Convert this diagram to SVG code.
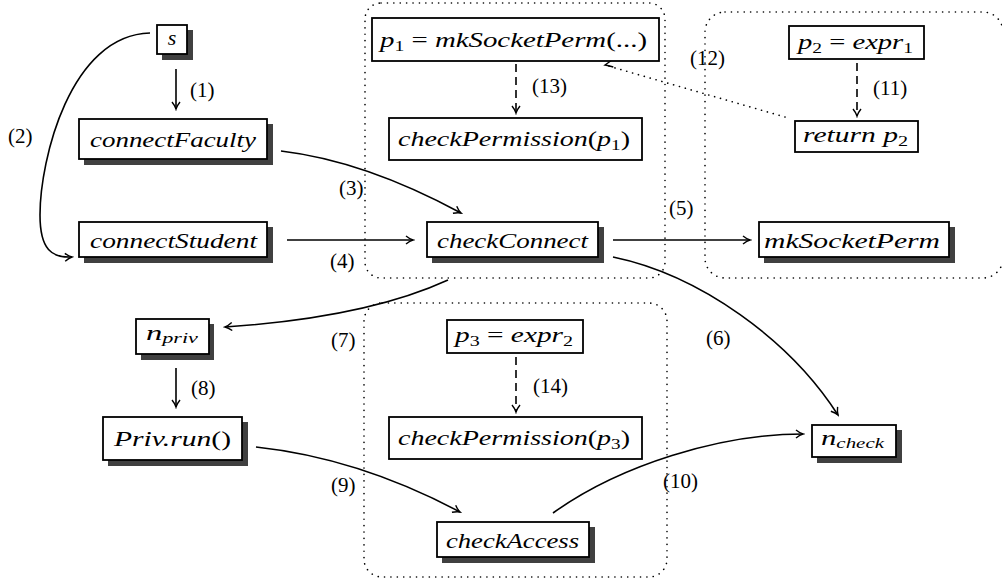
<svg xmlns="http://www.w3.org/2000/svg" width="1002" height="584" viewBox="0 0 1002 584">
<defs>
<marker id="ah" viewBox="-8 -5 10 10" refX="0" refY="0" markerWidth="10" markerHeight="10" markerUnits="userSpaceOnUse" orient="auto">
<path d="M-7,-4 Q-3,-0.8 0,0 Q-3,0.8 -7,4" fill="none" stroke="#000" stroke-width="1.4"/>
</marker>
</defs>
<rect width="1002" height="584" fill="#fff"/>

<g id="regions" fill="none" stroke="#000" stroke-width="1.6" stroke-linecap="round" stroke-dasharray="0.1 6.3">
<rect x="365" y="3" width="300" height="275" rx="16"/>
<rect x="705" y="12" width="298" height="266" rx="20"/>
<rect x="364" y="303" width="303" height="274" rx="18"/>
</g>

<g id="connectors" fill="none" stroke="#000" stroke-width="1.6">
<path d="M176,69 L176,109" marker-end="url(#ah)"/>
<path d="M150,33 C70,35 40,160 40,215 C40,250 52,258 72,257" marker-end="url(#ah)"/>
<path d="M281,151 C340,158 400,180 461,213" marker-end="url(#ah)"/>
<path d="M287,240 L413,240" marker-end="url(#ah)"/>
<path d="M613,240 L750,240" marker-end="url(#ah)"/>
<path d="M613,257 C700,275 790,340 838,415" marker-end="url(#ah)"/>
<path d="M448,280 C400,302 330,320 225,327" marker-end="url(#ah)"/>
<path d="M176,368 L176,407" marker-end="url(#ah)"/>
<path d="M256,447 C330,455 400,480 460,512" marker-end="url(#ah)"/>
<path d="M553,513 C620,465 720,434 803,434" marker-end="url(#ah)"/>
<path d="M857,63 L857,116" stroke-dasharray="8 5" marker-end="url(#ah)"/>
<path d="M785,117 L605,65" stroke-linecap="round" stroke-dasharray="0.1 6"/>
<path d="M612,60 Q607.5,63.2 605,65 Q608,65.5 613.3,67" stroke-width="1.4"/>
<path d="M516,64 L516,113" stroke-dasharray="8 5" marker-end="url(#ah)"/>
<path d="M516,357 L516,412" stroke-dasharray="8 5" marker-end="url(#ah)"/>
</g>

<g id="labels" fill="#000">
<text font-family="Liberation Serif" font-size="21" x="190" y="97">(1)</text>
<text font-family="Liberation Serif" font-size="21" x="8" y="143">(2)</text>
<text font-family="Liberation Serif" font-size="21" x="339" y="195">(3)</text>
<text font-family="Liberation Serif" font-size="21" x="330" y="268">(4)</text>
<text font-family="Liberation Serif" font-size="21" x="669" y="215">(5)</text>
<text font-family="Liberation Serif" font-size="21" x="706" y="345">(6)</text>
<text font-family="Liberation Serif" font-size="21" x="331" y="347">(7)</text>
<text font-family="Liberation Serif" font-size="21" x="191" y="395">(8)</text>
<text font-family="Liberation Serif" font-size="21" x="331" y="492">(9)</text>
<text font-family="Liberation Serif" font-size="21" x="663" y="488">(10)</text>
<text font-family="Liberation Serif" font-size="21" x="873" y="95">(11)</text>
<text font-family="Liberation Serif" font-size="21" x="690" y="65">(12)</text>
<text font-family="Liberation Serif" font-size="21" x="532" y="93">(13)</text>
<text font-family="Liberation Serif" font-size="21" x="533" y="393">(14)</text>
</g>

<g id="n-s">
<rect fill="#404040" x="162" y="30" width="31" height="30"/>
<rect fill="#fff" stroke="#000" stroke-width="1.8" x="157" y="25" width="30" height="29"/>
<text font-family="Liberation Serif" font-size="22" font-style="italic" x="172" y="45" text-anchor="middle">s</text>
</g>
<g id="n-connectFaculty">
<rect fill="#404040" x="84" y="124" width="189" height="41"/>
<rect fill="#fff" stroke="#000" stroke-width="1.8" x="79" y="119" width="188" height="40"/>
<text font-family="Liberation Serif" font-size="22" font-style="italic" x="90" y="147" textLength="166" lengthAdjust="spacingAndGlyphs">connectFaculty</text>
</g>
<g id="n-connectStudent">
<rect fill="#404040" x="84" y="227" width="189" height="36"/>
<rect fill="#fff" stroke="#000" stroke-width="1.8" x="79" y="222" width="188" height="35"/>
<text font-family="Liberation Serif" font-size="22" font-style="italic" x="90" y="248" textLength="167" lengthAdjust="spacingAndGlyphs">connectStudent</text>
</g>
<g id="n-checkConnect">
<rect fill="#404040" x="432" y="227" width="172" height="36"/>
<rect fill="#fff" stroke="#000" stroke-width="1.8" x="427" y="222" width="171" height="35"/>
<text font-family="Liberation Serif" font-size="22" font-style="italic" x="437" y="248" textLength="151" lengthAdjust="spacingAndGlyphs">checkConnect</text>
</g>
<g id="n-p1">
<rect fill="#fff" stroke="#000" stroke-width="1.8" x="372" y="18" width="287" height="43"/>
<text font-family="Liberation Serif" font-size="22" font-style="italic" x="380" y="47" textLength="267" lengthAdjust="spacingAndGlyphs">p<tspan font-style="normal" font-size="15" dy="4">1</tspan><tspan font-style="normal" dy="-4"> = </tspan>mkSocketPerm<tspan font-style="normal">(...)</tspan></text>
</g>
<g id="n-checkPermission1">
<rect fill="#fff" stroke="#000" stroke-width="1.8" x="389" y="118" width="253" height="42"/>
<text font-family="Liberation Serif" font-size="22" font-style="italic" x="398" y="146" textLength="232" lengthAdjust="spacingAndGlyphs">checkPermission<tspan font-style="normal">(</tspan>p<tspan font-style="normal" font-size="15" dy="4">1</tspan><tspan font-style="normal" dy="-4">)</tspan></text>
</g>
<g id="n-p2">
<rect fill="#fff" stroke="#000" stroke-width="1.8" x="789" y="26" width="135" height="33"/>
<text font-family="Liberation Serif" font-size="22" font-style="italic" x="798" y="49" textLength="115" lengthAdjust="spacingAndGlyphs">p<tspan font-style="normal" font-size="15" dy="4">2</tspan><tspan font-style="normal" dy="-4"> = </tspan>expr<tspan font-style="normal" font-size="15" dy="4">1</tspan></text>
</g>
<g id="n-return">
<rect fill="#fff" stroke="#000" stroke-width="1.8" x="795" y="121" width="123" height="31"/>
<text font-family="Liberation Serif" font-size="22" font-style="italic" x="803" y="142" textLength="105" lengthAdjust="spacingAndGlyphs">return p<tspan font-style="normal" font-size="15" dy="4">2</tspan></text>
</g>
<g id="n-mkSocketPerm">
<rect fill="#404040" x="764" y="227" width="191" height="36"/>
<rect fill="#fff" stroke="#000" stroke-width="1.8" x="759" y="222" width="190" height="35"/>
<text font-family="Liberation Serif" font-size="22" font-style="italic" x="764" y="248" textLength="176" lengthAdjust="spacingAndGlyphs">mkSocketPerm</text>
</g>
<g id="n-npriv">
<rect fill="#404040" x="141" y="324" width="73" height="36"/>
<rect fill="#fff" stroke="#000" stroke-width="1.8" x="136" y="319" width="73" height="35"/>
<text font-family="Liberation Serif" font-size="22" font-style="italic" x="146" y="340" textLength="52" lengthAdjust="spacingAndGlyphs">n<tspan font-size="15" dy="3">priv</tspan></text>
</g>
<g id="n-privrun">
<rect fill="#404040" x="108" y="422" width="140" height="44"/>
<rect fill="#fff" stroke="#000" stroke-width="1.8" x="103" y="417" width="139" height="43"/>
<text font-family="Liberation Serif" font-size="22" font-style="italic" x="114" y="446" textLength="117" lengthAdjust="spacingAndGlyphs">Priv.run<tspan font-style="normal">()</tspan></text>
</g>
<g id="n-p3">
<rect fill="#fff" stroke="#000" stroke-width="1.8" x="447" y="320" width="136" height="33"/>
<text font-family="Liberation Serif" font-size="22" font-style="italic" x="455" y="342" textLength="118" lengthAdjust="spacingAndGlyphs">p<tspan font-style="normal" font-size="15" dy="4">3</tspan><tspan font-style="normal" dy="-4"> = </tspan>expr<tspan font-style="normal" font-size="15" dy="4">2</tspan></text>
</g>
<g id="n-checkPermission3">
<rect fill="#fff" stroke="#000" stroke-width="1.8" x="389" y="417" width="253" height="42"/>
<text font-family="Liberation Serif" font-size="22" font-style="italic" x="398" y="445" textLength="232" lengthAdjust="spacingAndGlyphs">checkPermission<tspan font-style="normal">(</tspan>p<tspan font-style="normal" font-size="15" dy="4">3</tspan><tspan font-style="normal" dy="-4">)</tspan></text>
</g>
<g id="n-checkAccess">
<rect fill="#404040" x="442" y="527" width="153" height="36"/>
<rect fill="#fff" stroke="#000" stroke-width="1.8" x="437" y="522" width="152" height="35"/>
<text font-family="Liberation Serif" font-size="22" font-style="italic" x="446" y="548" textLength="133" lengthAdjust="spacingAndGlyphs">checkAccess</text>
</g>
<g id="n-ncheck">
<rect fill="#404040" x="817" y="430" width="85" height="33"/>
<rect fill="#fff" stroke="#000" stroke-width="1.8" x="812" y="425" width="84" height="32"/>
<text font-family="Liberation Serif" font-size="22" font-style="italic" x="821" y="445" textLength="63" lengthAdjust="spacingAndGlyphs">n<tspan font-size="15" dy="3">check</tspan></text>
</g>
</svg>
